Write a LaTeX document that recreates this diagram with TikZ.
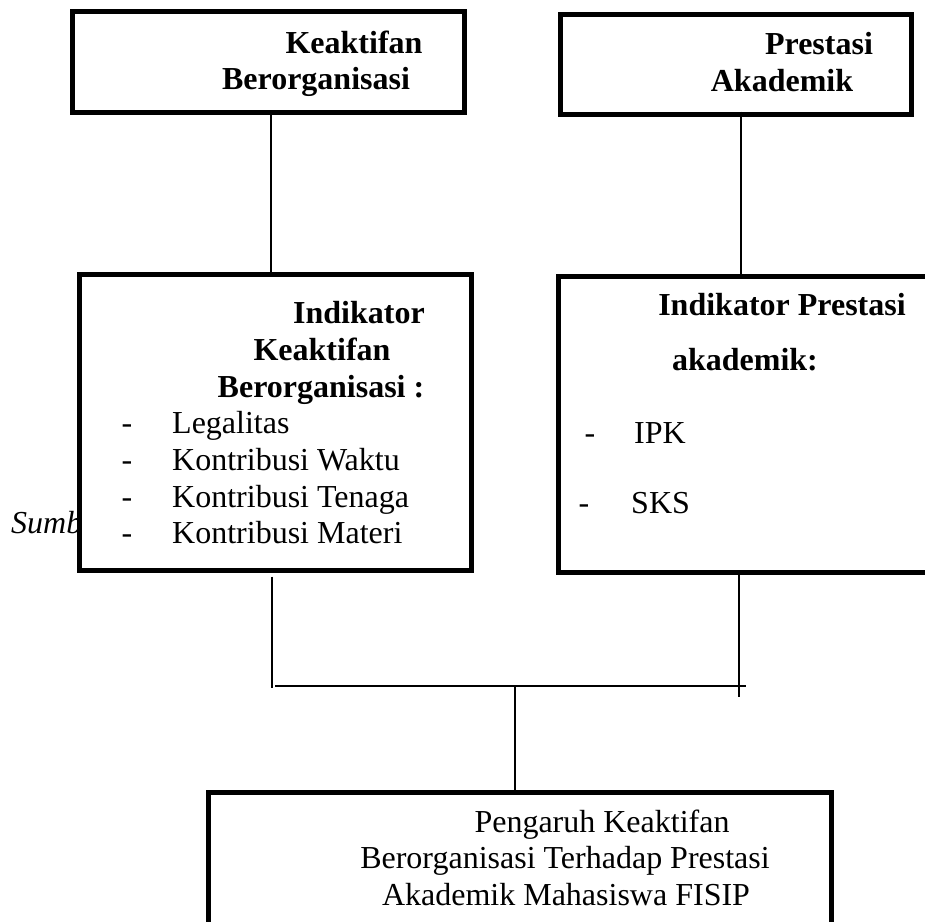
\documentclass[tikz,border=0pt]{standalone}
\usepackage{fontspec}
\setmainfont{Liberation Serif}
\tikzstyle{kotak}=[draw, line width=5pt, fill=white, inner sep=0pt]
\tikzstyle{garis}=[line width=1.5pt]
\tikzstyle{teks}=[inner sep=0pt, anchor=base, font=\fontsize{32}{37}\selectfont]
\tikzstyle{judul}=[teks, font=\fontsize{32}{37}\selectfont\bfseries]

\begin{document}
\begin{tikzpicture}[x=1pt, y=-1pt]
\clip (0,0) rectangle (925,921);
% Text behind the box
    \node[teks, anchor=base west, font=\fontsize{32}{37}\selectfont\itshape] (sumber) at (11,533) {Sumber};
% Boxes
    \node[kotak, minimum width=392pt, minimum height=101pt] (keaktifan) at (268,61.5) {};
    \node[kotak, minimum width=351pt, minimum height=100pt] (prestasi) at (735.5,64) {};
    \node[kotak, minimum width=392pt, minimum height=296pt] (indkeaktifan) at (275,422) {};
    \node[kotak, minimum width=382pt, minimum height=296pt] (indprestasi) at (749,424) {};
    \node[kotak, minimum width=623pt, minimum height=178pt] (hasil) at (519.5,881) {};
% Texts
    \node[judul] (t1a) at (354,53) {Keaktifan};
    \node[judul] (t1b) at (316,89) {Berorganisasi};
    \node[judul] (t2a) at (819,54) {Prestasi};
    \node[judul] (t2b) at (782,91) {Akademik};
    \node[judul] (t3a) at (359,323) {Indikator};
    \node[judul] (t3b) at (322,360) {Keaktifan};
    \node[judul] (t3c) at (321,397) {Berorganisasi :};
    \node[teks] (d1) at (127,433) {-};
    \node[teks] (d2) at (127,470) {-};
    \node[teks] (d3) at (127,507) {-};
    \node[teks] (d4) at (127,543) {-};
    \node[teks, anchor=base west] (i1) at (172,433) {Legalitas};
    \node[teks, anchor=base west] (i2) at (172,470) {Kontribusi Waktu};
    \node[teks, anchor=base west] (i3) at (172,507) {Kontribusi Tenaga};
    \node[teks, anchor=base west] (i4) at (172,543) {Kontribusi Materi};
    \node[judul] (t4a) at (782,315) {Indikator Prestasi};
    \node[judul] (t4b) at (745,370) {akademik:};
    \node[teks] (d5) at (590,443) {-};
    \node[teks] (d6) at (584,513) {-};
    \node[teks, anchor=base west] (i5) at (634,443) {IPK};
    \node[teks, anchor=base west] (i6) at (631,513) {SKS};
    \node[teks] (t5a) at (602,832) {Pengaruh Keaktifan};
    \node[teks] (t5b) at (565,868) {Berorganisasi Terhadap Prestasi};
    \node[teks] (t5c) at (566,905) {Akademik Mahasiswa FISIP};
% Lines
    \coordinate (kiri) at (272,688);
    \coordinate (kanan) at (739,697);
    \coordinate (tengah) at (515,686);
    \draw[garis] (keaktifan.south -| 271,0) -- (indkeaktifan.north -| 271,0);
    \draw[garis] ([yshift=5pt]prestasi.south -| 741,0) -- (indprestasi.north -| 741,0);
    \draw[garis] ([yshift=-4pt]indkeaktifan.south -| kiri) -- (kiri);
    \draw[garis] (indprestasi.south -| kanan) -- (kanan);
    \draw[garis] ([xshift=3pt]kiri |- tengah) -- ([xshift=7pt]kanan |- tengah);
    \draw[garis] (tengah) -- (hasil.north -| tengah);
\end{tikzpicture}
\end{document}
